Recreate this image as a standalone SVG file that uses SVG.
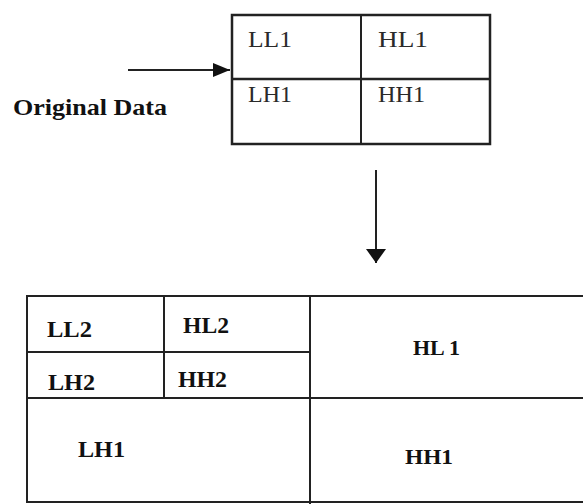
<svg xmlns="http://www.w3.org/2000/svg" width="583" height="504" viewBox="0 0 583 504">
<style>
.ln{stroke:#222;stroke-width:2;fill:none}
.t{font-family:"Liberation Serif","Times New Roman",serif;fill:#2a2a2a;font-size:24px}
.b{font-family:"Liberation Serif","Times New Roman",serif;fill:#111;font-weight:bold;font-size:23px}
</style>
<defs>
<marker id="ah2" markerWidth="18" markerHeight="14" refX="17" refY="7" orient="auto" markerUnits="userSpaceOnUse">
<path d="M0,0 L17,7 L0,14 Z" fill="#111"/>
</marker>
<marker id="ah3" markerWidth="15" markerHeight="20" refX="14" refY="10" orient="auto" markerUnits="userSpaceOnUse">
<path d="M0,0 L14,10 L0,20 Z" fill="#111"/>
</marker>
</defs>
<rect width="583" height="504" fill="#fff"/>
<g id="connectors">
<line x1="128" y1="70" x2="230" y2="70" class="ln" marker-end="url(#ah2)"/>
<line x1="376" y1="170" x2="376" y2="263" class="ln" marker-end="url(#ah3)"/>
</g>
<g id="original-data">
<text x="13" y="115" class="b" style="font-size:24px" textLength="154" lengthAdjust="spacingAndGlyphs">Original Data</text>
</g>
<g id="level1">
<rect x="232" y="15" width="258" height="129" class="ln" style="stroke-width:2.5"/>
<line x1="232" y1="79" x2="490" y2="79" class="ln" style="stroke-width:2.5"/>
<line x1="361" y1="15" x2="361" y2="144" class="ln"/>
<text x="248" y="47" class="t" textLength="44" lengthAdjust="spacingAndGlyphs">LL1</text>
<text x="378" y="47" class="t" textLength="50" lengthAdjust="spacingAndGlyphs">HL1</text>
<text x="248" y="102" class="t" textLength="44" lengthAdjust="spacingAndGlyphs">LH1</text>
<text x="378" y="102" class="t" textLength="47" lengthAdjust="spacingAndGlyphs">HH1</text>
</g>
<g id="level2">
<rect x="27" y="296" width="560" height="206" class="ln"/>
<line x1="27" y1="398" x2="583" y2="398" class="ln"/>
<line x1="310" y1="296" x2="310" y2="504" class="ln"/>
<line x1="27" y1="352" x2="310" y2="352" class="ln"/>
<line x1="164" y1="296" x2="164" y2="398" class="ln"/>
<text x="47" y="337" class="b" textLength="45" lengthAdjust="spacingAndGlyphs">LL2</text>
<text x="183" y="333" class="b" textLength="46" lengthAdjust="spacingAndGlyphs">HL2</text>
<text x="48" y="390" class="b" textLength="47" lengthAdjust="spacingAndGlyphs">LH2</text>
<text x="178" y="387" class="b" textLength="49" lengthAdjust="spacingAndGlyphs">HH2</text>
<text x="78" y="457" class="b" textLength="47" lengthAdjust="spacingAndGlyphs">LH1</text>
<text x="413" y="355" class="b" style="font-size:20px" textLength="47" lengthAdjust="spacingAndGlyphs">HL 1</text>
<text x="405" y="464" class="b" style="font-size:21px" textLength="48" lengthAdjust="spacingAndGlyphs">HH1</text>
</g>
</svg>
